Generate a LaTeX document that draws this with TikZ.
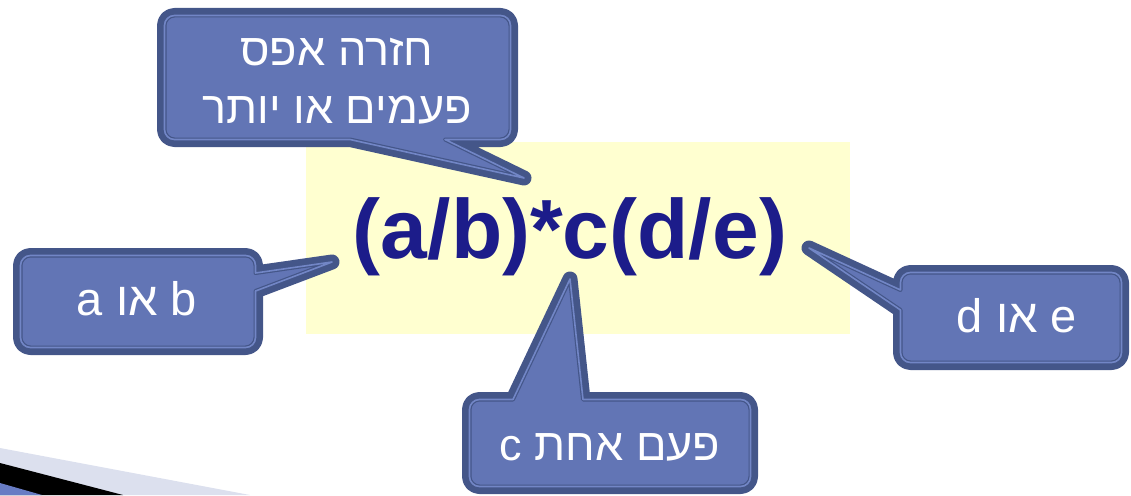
\documentclass[tikz,border=0pt]{standalone}
\usepackage{fontspec}
\TeXXeTstate=1
\newfontfamily\hebfont[Script=Hebrew]{Liberation Sans}
\newfontfamily\formfont{Liberation Sans}

\definecolor{calfill}{RGB}{98,117,181}
\definecolor{caldark}{RGB}{68,86,137}
\definecolor{callight}{RGB}{114,134,198}
\definecolor{hilite}{RGB}{255,255,208}
\definecolor{formcol}{RGB}{28,28,138}
\definecolor{decolight}{RGB}{220,224,238}
\definecolor{decoblue}{RGB}{104,124,196}

% callout: thick dark rim, fill, then a thin dark/light double rule
\newcommand\calloutshape[1]{%
  \path[draw=caldark,line width=15pt,line join=round] #1;
  \path[fill=calfill] #1;
  \path[draw=caldark,line width=4pt,line join=round] #1;
  \path[draw=callight,line width=1.6pt,line join=round] #1;
}

\tikzset{
  caltext/.style={text=white,inner sep=0pt,anchor=base,
    font=\hebfont\fontsize{45}{52}\selectfont},
  caltextsm/.style={caltext,font=\hebfont\fontsize{47}{52}\selectfont},
}

\begin{document}
\begin{tikzpicture}[x=1pt,y=-1pt]
\useasboundingbox (0,0) rectangle (1131,495);

% highlighted expression
\fill[hilite] (306,142) rectangle (850,334);
\node[inner sep=0pt,anchor=base,text=formcol,
  font=\formfont\bfseries\fontsize{84}{84}\selectfont]
  (expr) at (570,258) {(a/b)*c(d/e)};

% corner decoration
\fill[decolight] (0,448) -- (250,495) -- (0,495) -- cycle;
\fill[black] (0,463) -- (123,495) -- (0,495) -- cycle;
\fill[decoblue] (0,483) -- (42,495) -- (0,495) -- cycle;

% top callout
\calloutshape{(524,178) -- (350,139.5) [rounded corners=10pt] -- (164.5,139.5)
  -- (164.5,15.5) -- (510.5,15.5) -- (510.5,139.5) [sharp corners] -- (445,139.5) -- cycle}
\node[caltext] (rep1) at (337,65) {\beginR חזרה אפס\endR};
\node[caltext] (rep2) at (337,123) {\beginR פעמים או יותר\endR};

% left callout
\calloutshape{(332,262) -- (255.5,291) [rounded corners=10pt] -- (255.5,347.5)
  -- (20.5,347.5) -- (20.5,255.5) -- (255.5,255.5) [sharp corners] -- (255.5,273) -- cycle}
\node[caltextsm] (ab) at (137,315) {\beginR b או a\endR};

% right callout
\calloutshape{(809,248) -- (900.5,290) [rounded corners=10pt] -- (900.5,272.5)
  -- (1121.5,272.5) -- (1121.5,362.5) -- (900.5,362.5) [sharp corners] -- (900.5,310) -- cycle}
\node[caltextsm] (de) at (1017,332) {\beginR e או d\endR};

% bottom callout
\calloutshape{(570,279) -- (583,399.5) [rounded corners=10pt] -- (750.5,399.5)
  -- (750.5,486.5) -- (469.5,486.5) -- (469.5,399.5) [sharp corners] -- (513,399.5) -- cycle}
\node[caltext] (once) at (610,460) {\beginR פעם אחת c\endR};
\end{tikzpicture}
\end{document}
